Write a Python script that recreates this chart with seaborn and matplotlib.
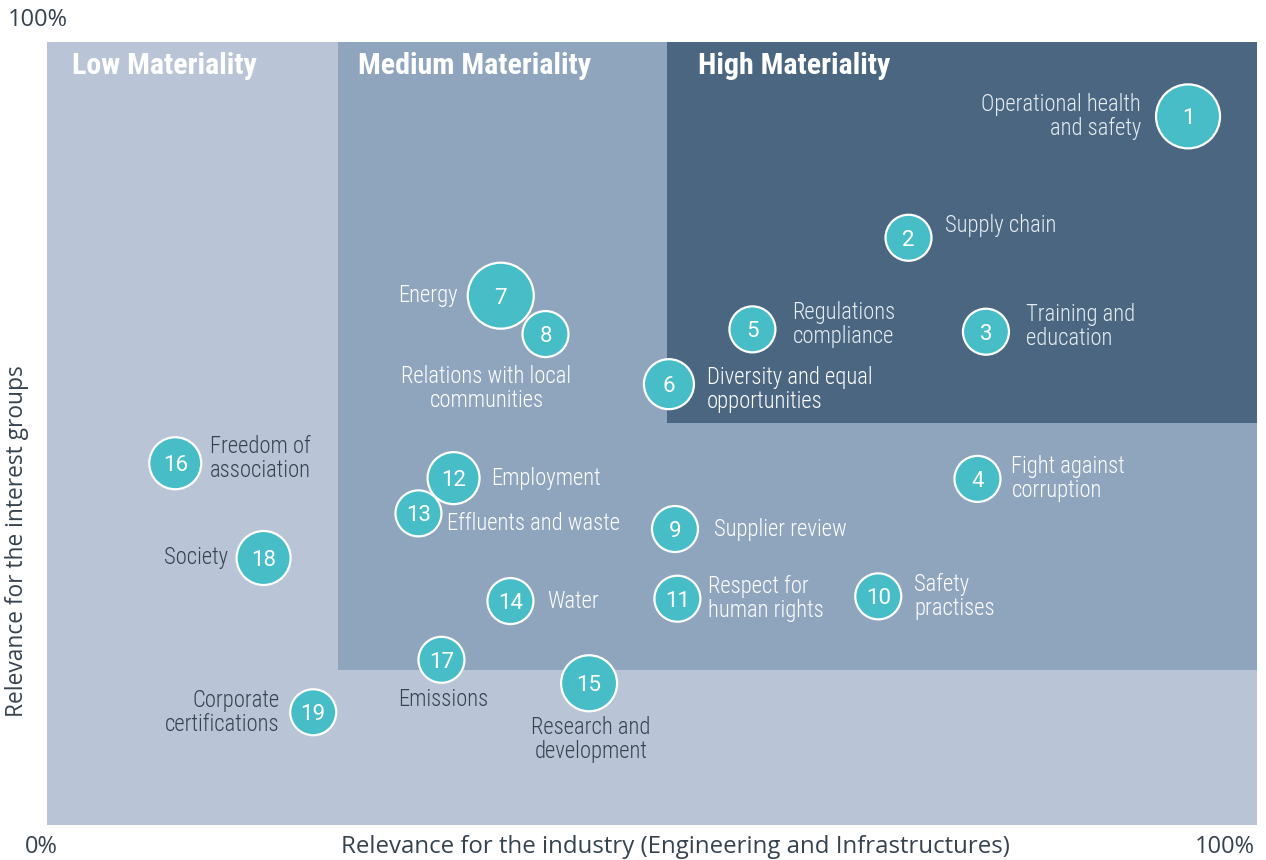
import matplotlib
matplotlib.use("Agg")
import matplotlib.pyplot as plt
import seaborn as sns
import pandas as pd
from matplotlib.patches import Rectangle

# ---------------- data ----------------
ids = list(range(1, 20))
industry = [94.3, 71.2, 77.6, 76.9, 58.3, 51.4, 37.5, 41.2, 51.9, 68.7,
            52.1, 33.6, 30.7, 38.3, 44.8, 10.6, 32.6, 17.9, 22.0]
interest = [90.5, 75.0, 63.0, 44.2, 63.3, 56.3, 67.6, 62.7, 37.8, 29.2,
            28.9, 44.3, 39.8, 28.6, 18.1, 46.2, 21.1, 34.1, 14.4]
weight = [32, 23, 23, 23, 23, 25, 33, 23, 23, 23,
          23, 26, 23, 23, 28, 26, 23, 27, 23]
labels = ["Operational health\nand safety", "Supply chain", "Training and\neducation",
          "Fight against\ncorruption", "Regulations\ncompliance",
          "Diversity and equal\nopportunities", "Energy",
          "Relations with local\ncommunities", "Supplier review", "Safety\npractises",
          "Respect for\nhuman rights", "Employment", "Effluents and waste", "Water",
          "Research and\ndevelopment", "Freedom of\nassociation", "Emissions", "Society",
          "Corporate\ncertifications"]
region_names = ["Low Materiality", "Medium Materiality", "High Materiality"]
region_x0 = [0, 24.05, 51.25]
region_y0 = [0, 19.8, 51.3]

# ---------------- style ----------------
C_LOW, C_MED, C_HIGH = "#b9c5d6", "#8fa5bd", "#4a6680"
C_BUB = "#47bdc8"
C_DARK = "#36434f"
COND = ["Roboto Condensed", "DejaVu Sans"]
REG = ["Open Sans", "DejaVu Sans"]

# label offsets in pixels (dx, dy), horizontal alignment
lab_pos = {
    1: (-47, 0, "right"), 2: (36, 12, "left"), 3: (40, 5, "left"), 4: (34, 0, "left"),
    5: (40, 5, "left"), 6: (38, -5, "left"), 7: (-43, 0, "right"), 8: (-59, -54, "center"),
    9: (39, 0, "left"), 10: (36, 0, "left"), 11: (31, 0, "left"), 12: (38, 0, "left"),
    13: (29, -10, "left"), 14: (37, 0, "left"), 15: (2, -56, "center"), 16: (35, 5, "left"),
    17: (2, -40, "center"), 18: (-35, 0, "right"), 19: (-34, 0, "right"),
}
dark_ids = {15, 16, 17, 18, 19}
high_ids = {1, 2, 3, 5}

df = pd.DataFrame({"id": ids, "x": industry, "y": interest, "r": weight, "label": labels})
df["area"] = (2 * df["r"] * 0.72) ** 2

sns.set_theme(style="white")
plt.rcParams["font.family"] = REG

W, H = 1266, 860
fig = plt.figure(figsize=(W / 100, H / 100), dpi=100)
ax = fig.add_axes([47 / W, 35 / H, 1210 / W, 783 / H])
ax.set_xlim(0, 100)
ax.set_ylim(0, 100)

colors = [C_LOW, C_MED, C_HIGH]
for name, x0, y0, c in zip(region_names, region_x0, region_y0, colors):
    ax.add_patch(Rectangle((x0, y0), 100 - x0, 100 - y0, facecolor=c, edgecolor="none", zorder=0))

title_dx = [25, 20, 31]
for name, x0, dx in zip(region_names, region_x0, title_dx):
    ax.annotate(name, xy=(x0, 100), xytext=(dx, -24), textcoords="offset pixels",
                ha="left", va="center", color="white", fontsize=21.6, fontweight="bold",
                family=COND, zorder=3)

amin, amax = df["area"].min(), df["area"].max()
sns.scatterplot(data=df, x="x", y="y", size="area", sizes=(amin, amax), size_norm=(amin, amax),
                color=C_BUB, edgecolor="white", linewidth=1.6, alpha=1, legend=False,
                ax=ax, zorder=4)

for _, row in df.iterrows():
    ax.text(row["x"], row["y"], str(row["id"]), ha="center", va="center_baseline",
            color="white", fontsize=16, family=["Roboto", "DejaVu Sans"], zorder=5)
    dx, dy, ha = lab_pos[row["id"]]
    if row["id"] in dark_ids:
        col = C_DARK
    elif row["id"] in high_ids:
        col = "#e6edf2"
    else:
        col = "white"
    ax.annotate(row["label"], xy=(row["x"], row["y"]), xytext=(dx, dy),
                textcoords="offset pixels", ha=ha, va="center", multialignment=ha,
                color=col, fontsize=16.3, fontweight="light", family=COND,
                linespacing=1.06, zorder=5)

ax.set_xticks([])
ax.set_yticks([])
for s in ax.spines.values():
    s.set_visible(False)
ax.set_xlabel("")
ax.set_ylabel("")

fig.text(8 / W, 1 - 20 / H, "100%", ha="left", va="center", fontsize=17, color=C_DARK)
fig.text(25 / W, 1 - 847 / H, "0%", ha="left", va="center", fontsize=17, color=C_DARK)
fig.text(1255 / W, 1 - 847 / H, "100%", ha="right", va="center", fontsize=17, color=C_DARK)
fig.text(675 / W, 1 - 847 / H, "Relevance for the industry (Engineering and Infrastructures)",
         ha="center", va="center", fontsize=17.3, color=C_DARK)
fig.text(17 / W, 1 - 541 / H, "Relevance for the interest groups", ha="center", va="center",
         rotation=90, fontsize=16.4, color=C_DARK)

fig.savefig("out.png", dpi=100)
